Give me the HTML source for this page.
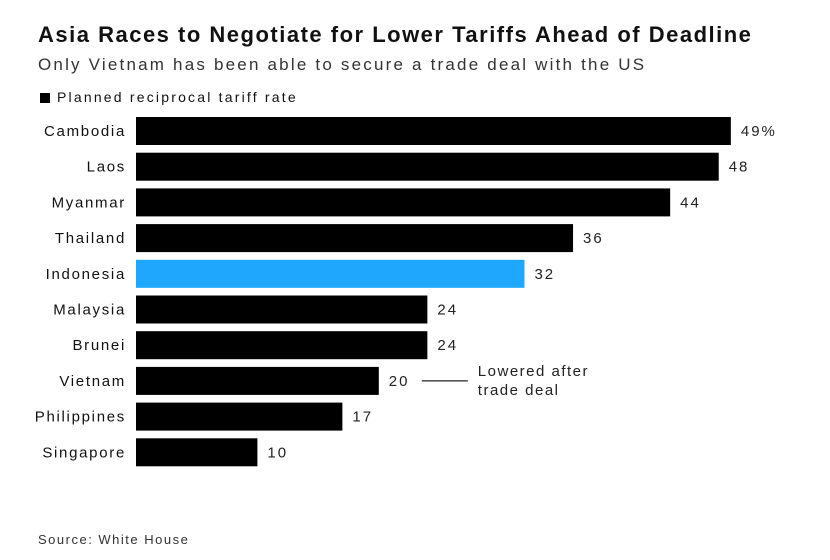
<!DOCTYPE html>
<html><head><meta charset="utf-8"><style>
body{margin:0;background:#fff;font-family:"Liberation Sans",sans-serif;}
#wrap{position:relative;width:830px;height:560px;overflow:hidden;background:#fff;}
.t{position:absolute;white-space:nowrap;color:#111;}
</style></head><body>
<div id="wrap">
<div class="t" style="left:38px;top:22px;font-size:22px;font-weight:bold;letter-spacing:1.5px;">Asia Races to Negotiate for Lower Tariffs Ahead of Deadline</div>
<div class="t" style="left:38px;top:55px;font-size:17px;color:#333;letter-spacing:2.2px;">Only Vietnam has been able to secure a trade deal with the US</div>
<div class="t" style="left:40px;top:89px;font-size:14px;letter-spacing:2.2px;"><span style="display:inline-block;width:10px;height:10px;background:#000;margin-right:7px;vertical-align:-1px"></span>Planned reciprocal tariff rate</div>
<svg id="chart" width="830" height="560" style="position:absolute;left:0;top:0"></svg>
<div class="t" style="left:38px;top:532px;font-size:13px;color:#333;letter-spacing:1.5px;">Source: White House</div>
</div>
<script>
const categories=["Cambodia","Laos","Myanmar","Thailand","Indonesia","Malaysia","Brunei","Vietnam","Philippines","Singapore"];
const values=[49,48,44,36,32,24,24,20,17,10];
const valueLabels=["49%","48","44","36","32","24","24","20","17","10"];
const highlight=["Indonesia"];
const svg=document.getElementById('chart');
const NS='http://www.w3.org/2000/svg';
const x=v=>136+v*12.14;
const y=i=>117+i*35.7;
const bh=28;
categories.forEach((c,i)=>{
  const r=document.createElementNS(NS,'rect');
  r.setAttribute('x',x(0));r.setAttribute('y',y(i));
  r.setAttribute('width',x(values[i])-x(0));r.setAttribute('height',bh);
  r.setAttribute('fill',highlight.includes(c)?'#1ea7fd':'#000');
  
  
  svg.appendChild(r);
  const t=document.createElementNS(NS,'text');
  t.setAttribute('x',126);t.setAttribute('y',y(i)+bh/2+5);
  t.setAttribute('text-anchor','end');t.setAttribute('font-size','15');
  t.setAttribute('letter-spacing','1.7');
  t.setAttribute('fill','#111');t.setAttribute('font-family','Liberation Sans, sans-serif');
  t.textContent=c;
  
  
  svg.appendChild(t);
  const v=document.createElementNS(NS,'text');
  v.setAttribute('x',x(values[i])+10);v.setAttribute('y',y(i)+bh/2+5);
  v.setAttribute('font-size','15');v.setAttribute('fill','#222');
  v.setAttribute('letter-spacing','2');
  v.setAttribute('font-family','Liberation Sans, sans-serif');
  v.textContent=valueLabels[i];
  
  
  svg.appendChild(v);
});
const vi=categories.indexOf("Vietnam");
const ly=y(vi)+bh/2;
const ln=document.createElementNS(NS,'line');
ln.setAttribute('x1',x(values[vi])+43);ln.setAttribute('x2',x(values[vi])+89);
ln.setAttribute('y1',ly);ln.setAttribute('y2',ly);ln.setAttribute('stroke','#222');ln.setAttribute('stroke-width','1.2');


svg.appendChild(ln);
[["Lowered after",-5],["trade deal",14]].forEach(([s,d])=>{
  const t=document.createElementNS(NS,'text');
  t.setAttribute('x',x(values[vi])+99);t.setAttribute('y',ly+d);
  t.setAttribute('font-size','15');t.setAttribute('fill','#222');
  t.setAttribute('letter-spacing','1.5');
  t.setAttribute('font-family','Liberation Sans, sans-serif');
  t.textContent=s;
  
  
  svg.appendChild(t);
});
</script>
</body></html>
